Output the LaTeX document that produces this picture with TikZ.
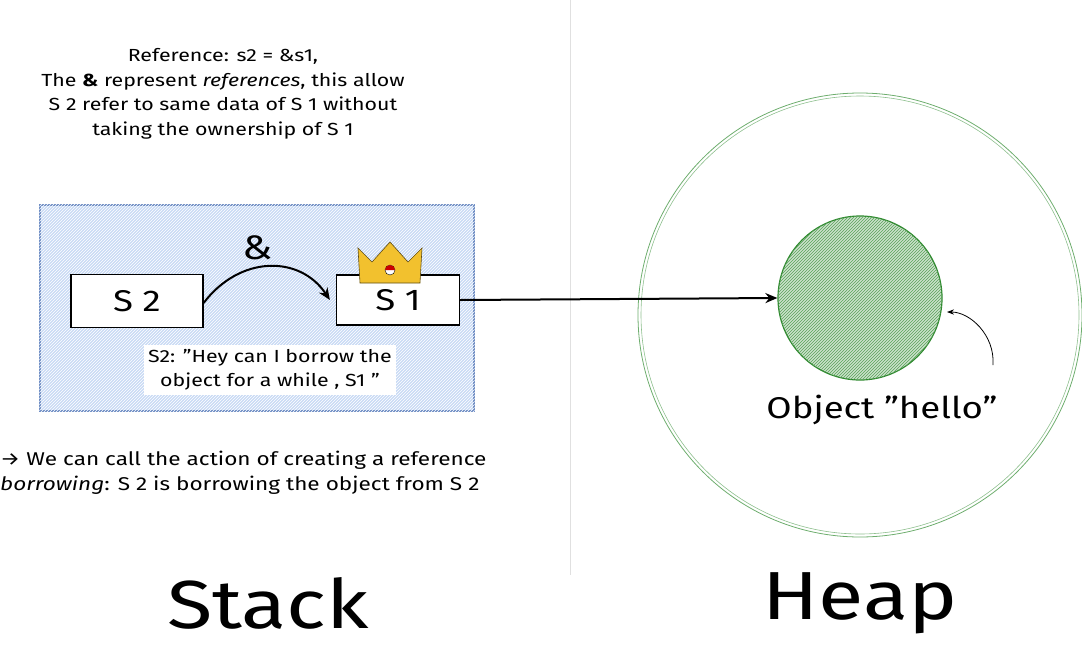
\documentclass[tikz,border=0pt]{standalone}
\usepackage{fontspec}
\setmainfont{Fira Sans}[FakeStretch=1.22]
\usetikzlibrary{patterns,arrows.meta}
\definecolor{bluebd}{HTML}{6C8CC4}
\definecolor{bluefill}{HTML}{C9DBF5}
\definecolor{grn}{HTML}{2F8A2F}
\definecolor{gold}{HTML}{F2C12E}
\newcommand{\qq}{\char"22}
\begin{document}
\begin{tikzpicture}[x=1pt,y=-1pt,
  txt/.style={font=\fontsize{17.5}{24.5}\selectfont, align=center},
  varbox/.style={draw=black, line width=1.2pt, fill=white, font=\fontsize{30}{30}\selectfont, inner sep=0pt},
  conn/.style={line width=2pt, -{Stealth[length=12pt,width=10pt]}}]
\useasboundingbox (0,0) rectangle (1082,654);
\draw[black!12, line width=0.8pt] (570,0) -- (570,575);
\node[txt] (top) at (223,94) {Reference: s2 = \&s1,\\The \textbf{\&} represent \textit{references}, this allow\\S 2 refer to same data of S 1 without\\taking the ownership of S 1};
\node[draw=bluebd, line width=1.3pt, fill=bluefill, minimum width=434pt, minimum height=206pt, inner sep=0pt] (frame) at (257,308) {};
\fill[pattern=north east lines, pattern color=white] (frame.north west) rectangle (frame.south east);
\node[varbox, minimum width=132pt, minimum height=53pt] (s2) at (137,301) {S 2};
\node[varbox, minimum width=123pt, minimum height=50pt] (s1) at (398,300) {S 1};
\draw[conn] (s2.east) ++(0,2) .. controls (240,255) and (300,255) .. ([xshift=-6pt]s1.west);
\node[font=\fontsize{34}{34}\selectfont] (amp) at (258,248) {\&};
% crown
\filldraw[fill=gold, draw=black!60!gold, line width=0.6pt] (360,283) -- (358,248) -- (372,262) -- (390,242) -- (408,262) -- (422,248) -- (420,283) -- cycle;
\filldraw[fill=white, draw=black] (390,270) circle (5pt);
\fill[red!80!black] (385,270) arc (180:0:5pt) -- cycle;
\node[txt, fill=white, inner sep=4pt] (talk) at (270,370) {S2: \qq Hey can I borrow the\\object for a while , S1 \qq};
\node[txt, font=\fontsize{18.5}{24.5}\selectfont, align=left, anchor=west, inner sep=0pt] (note) at (0,473) {→ We can call the action of creating a reference\\\textit{borrowing}: S 2 is borrowing the object from S 2};
% heap
\node[circle, draw=grn!70, line width=0.8pt, minimum size=444pt] (heap) at (860,315) {};
\draw[grn!55, line width=0.6pt] (860,315) circle (219pt);
\node[circle, draw=grn, line width=1.2pt, fill=grn!25, minimum size=164pt] (obj) at (860,298) {};
\fill[pattern=north east lines, pattern color=grn!80] (obj) circle (82pt);
\draw[conn] (s1.east) -- (obj.west);
\node[font=\fontsize{30}{30}\selectfont] (objl) at (882,410) {Object \qq hello\qq};
\coordinate (ps) at (993,365);
\coordinate (pe) at (947,312);
\draw[line width=0.8pt, -{Stealth[length=7pt]}] (ps) .. controls (995,335) and (970,312) .. (pe);
\node[font=\fontsize{68}{68}\selectfont\fontseries{m}] (stack) at (268,603) {Stack};
\node[font=\fontsize{68}{68}\selectfont\fontseries{m}] (heapl) at (860,603) {Heap};
\end{tikzpicture}
\end{document}
